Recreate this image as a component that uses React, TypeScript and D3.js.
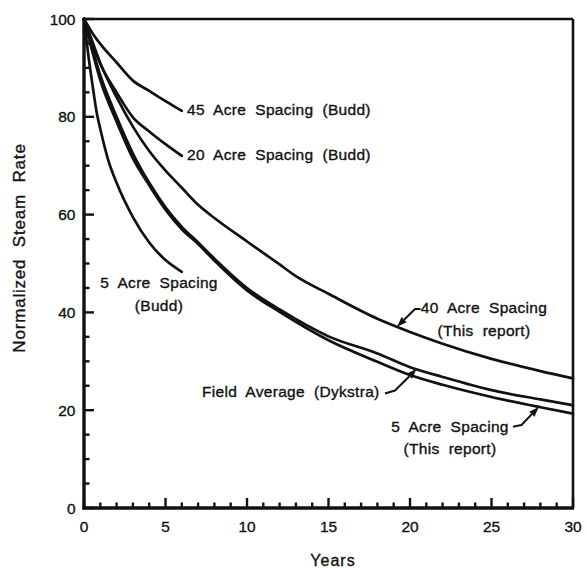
import React from "react";
import * as d3 from "d3";

// ---- data ----
const budd45Years = [0, 0.5, 1, 2, 3, 4, 5, 6];
const budd45Rate = [100, 97.2, 94.9, 91.1, 87.4, 85.3, 83.2, 81.2];

const budd20Years = [0, 0.5, 1, 2, 3, 4, 5, 6];
const budd20Rate = [100, 95, 90.8, 85, 79.9, 77, 74.4, 72];

const budd5Years = [0, 0.25, 0.5, 0.8, 1, 1.5, 2, 3, 4, 5, 6];
const budd5Rate = [100, 93, 87, 80.5, 77.5, 71, 66.5, 59.5, 54.3, 50.7, 48.3];

const report40Years = [0, 0.5, 1, 2, 3, 4, 5, 6, 7, 8, 10, 12, 13, 15, 18, 20, 22, 25, 28, 30];
const report40Rate = [100, 95.5, 91, 84, 78, 73, 69, 65.5, 62, 59.3, 54.5, 49.8, 47.4, 43.8, 38.7, 36, 33.6, 30.5, 28, 26.5];

const dykstraYears = [0, 0.5, 1, 2, 3, 4, 5, 6, 7, 8, 10, 12, 15, 18, 20, 22, 25, 28, 30];
const dykstraRate = [100, 94, 88.5, 80, 72.5, 66.5, 61.5, 57.5, 54.3, 51, 45, 40.6, 35.1, 31.6, 28.8, 26.8, 24.1, 22.2, 21.0];

const report5Years = [0, 0.5, 1, 2, 3, 4, 5, 6, 7, 8, 10, 12, 15, 18, 20, 22, 25, 28, 30];
const report5Rate = [100, 93.5, 87.5, 79, 71.5, 66, 61, 57, 54, 50.6, 44.5, 40.1, 34.3, 29.9, 27.2, 25.2, 22.7, 20.6, 19.3];

const xTickLabels = [0, 5, 10, 15, 20, 25, 30];
const yTickLabels = [0, 20, 40, 60, 80, 100];

const series = [
  { key: "budd45", years: budd45Years, rate: budd45Rate },
  { key: "budd20", years: budd20Years, rate: budd20Rate },
  { key: "budd5", years: budd5Years, rate: budd5Rate },
  { key: "report40", years: report40Years, rate: report40Rate },
  { key: "dykstra", years: dykstraYears, rate: dykstraRate },
  { key: "report5", years: report5Years, rate: report5Rate },
];

// ---- layout ----
const W = 586;
const H = 568;
const X0 = 84;
const X1 = 573;
const Y0 = 508;
const Y1 = 19;
const FONT = "'Liberation Sans', Arial, Helvetica, sans-serif";
const INK = "#111";

const x = d3.scaleLinear().domain([0, 30]).range([X0, X1]);
const y = d3.scaleLinear().domain([0, 100]).range([Y0, Y1]);

function valueAt(years: number[], rate: number[], t: number) {
  const f = d3.scaleLinear().domain(years).range(rate);
  return f(t);
}

const plainLabels = [
  { lines: ["45 Acre Spacing (Budd)"], anchor: "start", px: 187, py: 115 },
  { lines: ["20 Acre Spacing (Budd)"], anchor: "start", px: 187, py: 159.5 },
  { lines: ["5 Acre Spacing", "(Budd)"], anchor: "middle", px: 159, py: 288 },
  { lines: ["40 Acre Spacing", "(This report)"], anchor: "middle", px: 484, py: 313 },
  { lines: ["Field Average (Dykstra)"], anchor: "start", px: 202, py: 396.5 },
  { lines: ["5 Acre Spacing", "(This report)"], anchor: "middle", px: 450, py: 431.5 },
];

const arrows = [
  { key: "report40", start: [420.5, 309], bend: [415, 309], tipYear: 19.2 },
  { key: "dykstra", start: [385, 393.5], bend: [395, 390.5], tipYear: 20.4 },
  { key: "report5", start: [513, 426.7], bend: [521.5, 425], tipYear: 27.9 },
];

export default function App() {
  const line = d3
    .line<[number, number]>()
    .x((d) => x(d[0]))
    .y((d) => y(d[1]))
    .curve(d3.curveMonotoneX);

  const yTicks = d3.range(0, 101, 5);
  const xTicks = d3.range(0, 31, 1);

  const textStyle: React.CSSProperties = {
    fontFamily: FONT,
    fontSize: 15.5,
    letterSpacing: 0.3,
    wordSpacing: 4.5,
    fill: INK,
    stroke: INK,
    strokeWidth: 0.35,
  };
  const tickStyle: React.CSSProperties = {
    fontFamily: FONT,
    fontSize: 15.5,
    fill: INK,
    stroke: INK,
    strokeWidth: 0.35,
  };

  return (
    <svg
      width={W}
      height={H}
      viewBox={`0 0 ${W} ${H}`}
      style={{ position: "absolute", left: 0, top: 0, background: "#fff" }}
    >
      <rect x={0} y={0} width={W} height={H} fill="#fff" />
      <line x1={X0} y1={Y1} x2={X1} y2={Y1} stroke={INK} strokeWidth={2.6} />
      <line x1={X1} y1={Y1} x2={X1} y2={Y0} stroke={INK} strokeWidth={2.6} />
      <line x1={X0} y1={Y1 - 1} x2={X0} y2={Y0 + 1.5} stroke={INK} strokeWidth={3.4} />
      <line x1={X0 - 1.5} y1={Y0} x2={X1 + 1} y2={Y0} stroke={INK} strokeWidth={3.6} />

      {yTicks.map((v) => (
        <line
          key={"yt" + v}
          x1={X0}
          x2={X0 + (v % 20 === 0 ? 10 : 5.5)}
          y1={y(v)}
          y2={y(v)}
          stroke={INK}
          strokeWidth={2.4}
        />
      ))}
      {xTicks.map((t) => (
        <line
          key={"xt" + t}
          x1={x(t)}
          x2={x(t)}
          y1={Y0}
          y2={Y0 - (t % 5 === 0 ? 10 : 5.5)}
          stroke={INK}
          strokeWidth={2.4}
        />
      ))}

      {yTickLabels.map((v) => (
        <text key={"yl" + v} x={75.5} y={y(v) + 5.6} textAnchor="end" style={tickStyle}>
          {v}
        </text>
      ))}
      {xTickLabels.map((t) => (
        <text key={"xl" + t} x={x(t)} y={532} textAnchor="middle" style={tickStyle}>
          {t}
        </text>
      ))}

      <text
        transform={`translate(25,248) rotate(-90)`}
        textAnchor="middle"
        style={{ ...tickStyle, fontSize: 17, letterSpacing: 0.8, wordSpacing: 6 }}
      >
        Normalized Steam Rate
      </text>
      <text x={333} y={566} textAnchor="middle" style={{ ...tickStyle, fontSize: 16, letterSpacing: 1 }}>
        Years
      </text>

      {series.map((s) => (
        <path
          key={s.key}
          d={line(s.years.map((t, i) => [t, s.rate[i]] as [number, number])) || ""}
          fill="none"
          stroke={INK}
          strokeWidth={2.7}
          strokeLinejoin="round"
          strokeLinecap="round"
        />
      ))}

      {plainLabels.map((l, i) => (
        <text key={"lab" + i} x={l.px} y={l.py} textAnchor={l.anchor as any} style={textStyle}>
          {l.lines.map((ln, j) => (
            <tspan key={j} x={l.px} dy={j === 0 ? 0 : 22.5}>
              {ln}
            </tspan>
          ))}
        </text>
      ))}

      {arrows.map((a) => {
        const s = series.find((q) => q.key === a.key)!;
        const tx = x(a.tipYear);
        const ty = y(valueAt(s.years, s.rate, a.tipYear));
        const [bx, by] = a.bend;
        const ang = Math.atan2(ty - by, tx - bx);
        const len = 10;
        const half = 3.6;
        const baseX = tx - len * Math.cos(ang);
        const baseY = ty - len * Math.sin(ang);
        const p1 = [baseX + half * Math.sin(ang), baseY - half * Math.cos(ang)];
        const p2 = [baseX - half * Math.sin(ang), baseY + half * Math.cos(ang)];
        return (
          <g key={"ar" + a.key}>
            <polyline
              points={`${a.start[0]},${a.start[1]} ${bx},${by} ${baseX},${baseY}`}
              fill="none"
              stroke={INK}
              strokeWidth={2}
              strokeLinejoin="round"
            />
            <polygon points={`${tx},${ty} ${p1[0]},${p1[1]} ${p2[0]},${p2[1]}`} fill={INK} />
          </g>
        );
      })}
    </svg>
  );
}
